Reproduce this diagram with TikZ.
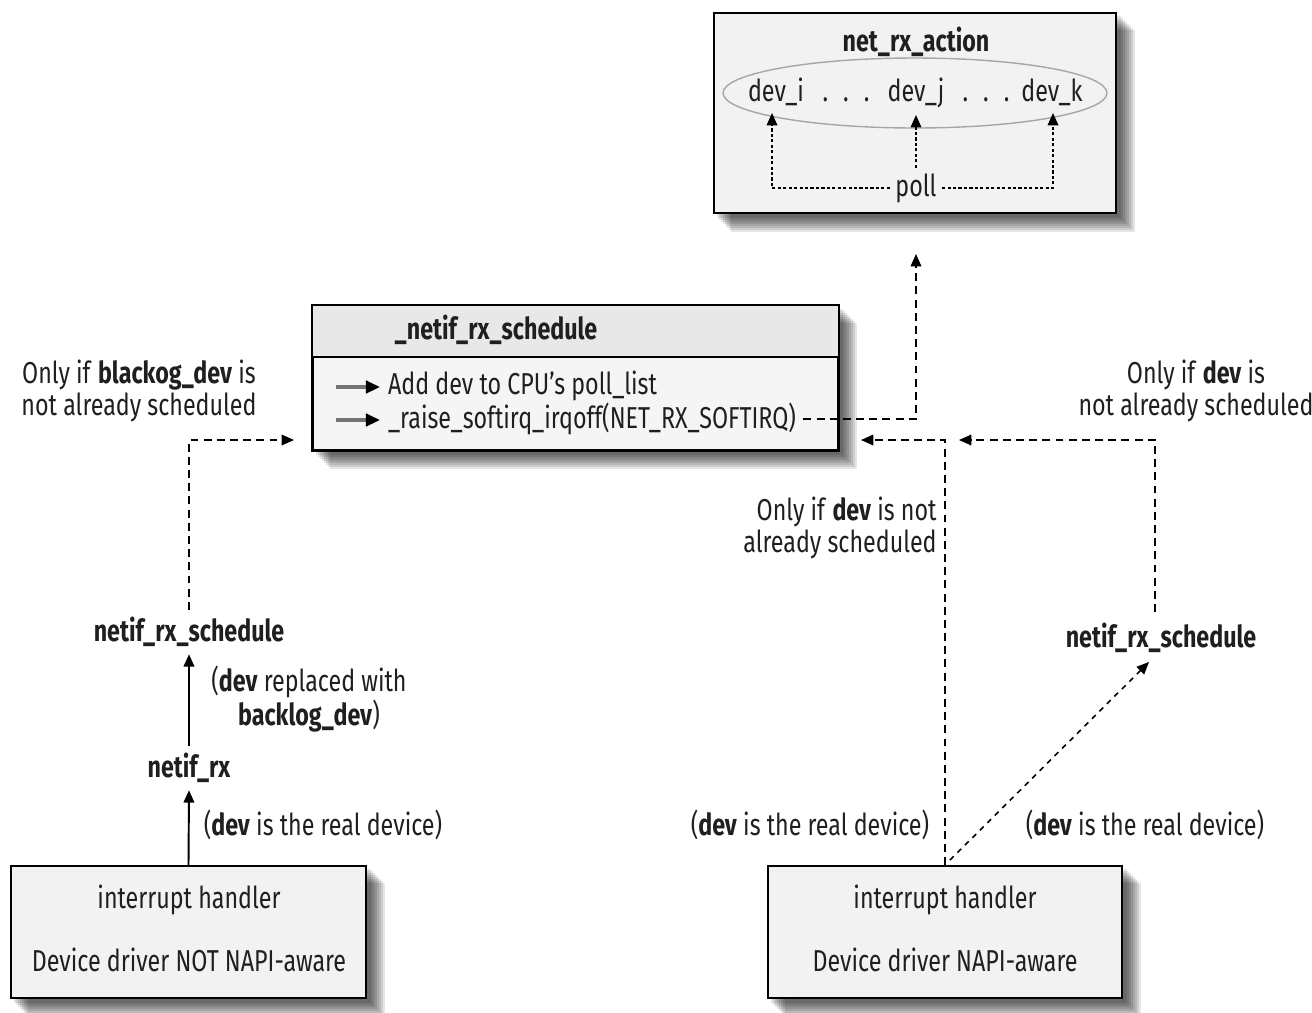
\documentclass[tikz,border=0pt]{standalone}
\usepackage{fontspec}
\setmainfont{Fira Sans}[FakeStretch=0.77]
\usetikzlibrary{arrows.meta,calc,shapes.geometric}
\newcommand\dfont{\fontsize{17.2}{18}\selectfont}
\pgfdeclarelayer{bgzero}
\pgfdeclarelayer{shadowlayer}
\pgfsetlayers{bgzero,shadowlayer,main}
\begin{document}
\begin{tikzpicture}[x=0.02cm,y=-0.02cm,
  every node/.style={font=\dfont, text=black!88, inner sep=1pt},
  bx/.style={draw=black, line width=1.1pt, fill=gray!10, inner sep=0pt},
  tip/.style={-{Triangle[length=7pt,width=6pt]}},
  dsh/.style={line width=0.9pt, dash pattern=on 4.5pt off 3pt, tip},
  dtd/.style={line width=0.9pt, dash pattern=on 1.8pt off 1.3pt, tip},
  ddg/.style={line width=0.9pt, dash pattern=on 3pt off 3pt, tip},
  sol/.style={line width=1.1pt, tip},
  bullet/.style={black!55, line width=2pt, -{Triangle[length=8pt,width=7pt,color=black]}},
  fn/.style={font=\dfont\bfseries},
]
\begin{pgfonlayer}{bgzero}
  \fill[white] (0,0) rectangle (1312,1012);
\end{pgfonlayer}
\useasboundingbox (0,0) rectangle (1312,1012);

% ---------- top box ----------
\node[bx, minimum width=8.04cm, minimum height=4cm] (top) at (915,113) {};
\node[fn] (title) at (916,42) {net\_rx\_action};
\node[ellipse, draw=gray!70, line width=0.8pt, minimum width=7.68cm, minimum height=1.4cm, inner sep=0pt] (ell) at (915,93) {};
\node[anchor=base] (devi) at (776,101) {dev\_i};
\node[anchor=base] (dots1) at (846,101) {.\,\,\,.\,\,\,.};
\node[anchor=base] (devj) at (916,101) {dev\_j};
\node[anchor=base] (dots2) at (986,101) {.\,\,\,.\,\,\,.};
\node[anchor=base] (devk) at (1052,101) {dev\_k};
\node[inner sep=3pt] (poll) at (916,188) {poll};
\coordinate (ti) at (772,113);
\coordinate (tj) at (916,115);
\coordinate (tk) at (1053,113);
\draw[dtd] (poll.west) -| (ti);
\draw[dtd] (poll.east) -| (tk);
\draw[dtd] (poll.north) -- (tj);

% ---------- middle box ----------
\node[bx, fill=gray!8, minimum width=10.5cm, minimum height=2.88cm] (mid) at (575.5,378) {};
\fill[gray!18] (mid.north west) rectangle (mid.east |- 0,357);
\draw[line width=1.1pt] (mid.west |- 0,357) -- (mid.east |- 0,357);
\draw[line width=1.1pt] (mid.north west) rectangle (mid.south east);
\node[fn] (mtitle) at (496,330) {\_netif\_rx\_schedule};
\coordinate (b1s) at (336,387);
\coordinate (b1e) at (380,387);
\coordinate (b2s) at (336,420);
\coordinate (b2e) at (380,420);
\draw[bullet] (b1s) -- (b1e);
\draw[bullet] (b2s) -- (b2e);
\node[anchor=west] (item1) at (386,386) {Add dev to CPU's poll\_list};
\node[anchor=west] (item2) at (386,419) {\_raise\_softirq\_irqoff(NET\_RX\_SOFTIRQ)};
\coordinate (uptip) at (916,254);
\draw[dsh] ([xshift=3pt]item2.east) -| (uptip);

% ---------- left column ----------
\node[bx, minimum width=7.1cm, minimum height=2.64cm] (lbox) at (188.5,932) {};
\node (lb1) at (189,900) {interrupt handler};
\node (lb2) at (189,960) {Device driver NOT NAPI-aware};
\node[fn, inner sep=4pt] (nrx) at (189,768) {netif\_rx};
\node[fn, inner sep=4pt] (nrsL) at (189,632) {netif\_rx\_schedule};
\draw[sol] (lbox.north) -- (nrx.south);
\draw[sol] (nrx.north) -- (nrsL.south);
\node (l3) at (323,825) {(\textbf{dev} is the real device)};
\node[align=center] (l2) at (309,699) {(\textbf{dev} replaced with\\\textbf{backlog\_dev})};
\node[align=center] (l1) at (139,391) {Only if \textbf{blackog\_dev} is\\not already scheduled};
\coordinate (ltip) at (294,440);
\draw[dsh] (nrsL.north) |- (ltip);

% ---------- right column ----------
\node[bx, minimum width=7.08cm, minimum height=2.64cm] (rbox) at (945,932) {};
\node (rb1) at (945,900) {interrupt handler};
\node (rb2) at (945,960) {Device driver NAPI-aware};
\node[fn, inner sep=4pt] (nrsR) at (1161,638) {netif\_rx\_schedule};
\coordinate (rtip1) at (861,440);
\coordinate (rtip2) at (959,440);
\coordinate (rtop) at (1155,612);
\draw[dsh] (rbox.north) |- (rtip1);
\draw[dsh] (rtop) |- (rtip2);
\coordinate (dstart) at (950,860);
\coordinate (dtip) at (1149,662);
\draw[ddg] (dstart) -- (dtip);
\node[align=right] (r4) at (840,528) {Only if \textbf{dev} is not\\already scheduled};
\node (r5) at (810,825) {(\textbf{dev} is the real device)};
\node (r6) at (1145,825) {(\textbf{dev} is the real device)};
\node[align=center] (r7) at (1196,391) {Only if \textbf{dev} is\\not already scheduled};

% ---------- shadows ----------
\begin{pgfonlayer}{shadowlayer}
\foreach \b in {top,mid,lbox,rbox}{
  \foreach \d in {4,6,...,18}{
    \fill[black,opacity=.1] ($(\b.north west)+(\d,\d)$) rectangle ($(\b.south east)+(\d,\d)$);
  }
}
\end{pgfonlayer}
\end{tikzpicture}
\end{document}
